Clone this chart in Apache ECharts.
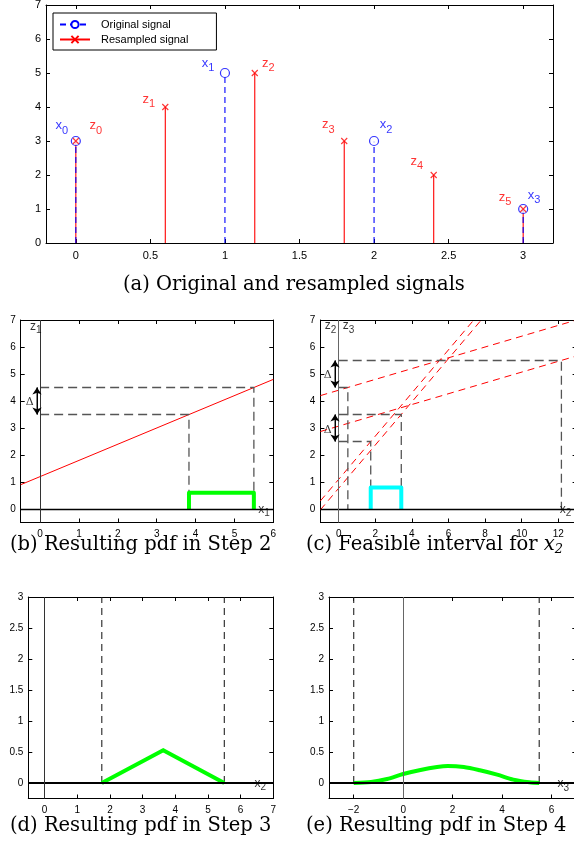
<!DOCTYPE html>
<html>
<head>
<meta charset="utf-8">
<script src="https://cdn.jsdelivr.net/npm/echarts@6/dist/echarts.min.js"></script>
<style>
  html, body { margin: 0; padding: 0; background: #fff; }
  #main { width: 574px; height: 854px; }
</style>
</head>
<body>
<div id="main"></div>
<script>
// (a) original signal x_k and resampled signal z_k
var origT = [0, 1, 2, 3];
var origV = [3, 5, 3, 1];
var resT = [0, 0.6, 1.2, 1.8, 2.4, 3];
var resV = [3, 4, 5, 3, 2, 1];
var aXTicks = [0, 0.5, 1, 1.5, 2, 2.5, 3];
var aYTicks = [0, 1, 2, 3, 4, 5, 6, 7];

// (b) z1 as a function of x1
var bLine = [[-0.5, 0.9], [6, 4.8]];
var bZBand = [3.5, 4.5];
var bXBand = [3.83, 5.5];
var bPdf = 0.6;
var bXTicks = [0, 1, 2, 3, 4, 5, 6];
var bcYTicks = [0, 1, 2, 3, 4, 5, 6, 7];

// (c) z2 / z3 as functions of x2
var cZ2Lines = [[[-1, 2.87], [13, 5.67]], [[-1, 4.2], [13, 7]]];
var cZ3Lines = [[[-1, -0.03], [7.79, 7]], [[-1, 0.3], [7.38, 7]]];
var cZ2Band = [4.5, 5.5];
var cZ2X = [0.5, 12.17];
var cZ3Band = [2.5, 3.5];
var cZ3X = [1.75, 3.42];
var cPdf = 0.8;
var cXTicks = [0, 2, 4, 6, 8, 10, 12];

// (d) pdf of x2
var dSupport = [1.75, 5.5];
var dPdf = [[1.75, 0], [3.63, 0.53], [5.5, 0]];
var dXTicks = [0, 1, 2, 3, 4, 5, 6, 7];
var deYTicks = [0, 0.5, 1, 1.5, 2, 2.5, 3];

// (e) pdf of x3
var eSupport = [-2, 5.5];
var ePdf = [[-2, 0], [-1.3, 0.016], [-0.65, 0.065], [0, 0.145], [0.7, 0.21], [1.37, 0.257],
            [1.8, 0.273], [2.45, 0.257], [3.1, 0.205], [3.8, 0.135], [4.45, 0.055], [5.1, 0.012], [5.5, 0]];
var eXTicks = [-2, 0, 2, 4, 6];

var SANS = 'Liberation Sans';
var SERIF = 'DejaVu Serif';
var BLUE = '#0000ff', RED = '#ff0000', GREEN = '#00ff00', CYAN = '#00ffff', GUIDE = '#555555';

var chart = echarts.init(document.getElementById('main'));

var panels = [
  { grid: {left: 46, top: 5, width: 507, height: 238}, x: [-0.2, 3.2], y: [0, 7], xt: aXTicks, yt: aYTicks, fs: 11 },
  { grid: {left: 20.7, top: 320, width: 252.6, height: 202.5}, x: [-0.5, 6], y: [-0.5, 7], xt: bXTicks, yt: bcYTicks, fs: 10 },
  { grid: {left: 320.4, top: 320, width: 256.2, height: 202.5}, x: [-1, 13], y: [-0.5, 7], xt: cXTicks, yt: bcYTicks, fs: 10 },
  { grid: {left: 28.3, top: 597, width: 245, height: 201.5}, x: [-0.5, 7], y: [-0.25, 3], xt: dXTicks, yt: deYTicks, fs: 10 },
  { grid: {left: 329, top: 597, width: 247.3, height: 201.5}, x: [-3, 7], y: [-0.25, 3], xt: eXTicks, yt: deYTicks, fs: 10 }
];

function fmt(v) { return v < 0 ? '\u2212' + (-v) : String(v); }

var grids = [], xAxes = [], yAxes = [];
panels.forEach(function (p, gi) {
  grids.push(Object.assign({containLabel: false, outerBoundsMode: 'none'}, p.grid));
  ['bottom', 'top'].forEach(function (pos) {
    xAxes.push({
      type: 'value', gridIndex: gi, position: pos, min: p.x[0], max: p.x[1],
      axisLine: {show: true, onZero: false, lineStyle: {color: '#000', width: 1}},
      axisTick: {show: true, inside: true, length: 4, customValues: p.xt, lineStyle: {color: '#000'}},
      axisLabel: {show: pos === 'bottom', customValues: p.xt, formatter: fmt, color: '#000',
                  fontFamily: SANS, fontSize: p.fs, margin: 7},
      splitLine: {show: false}
    });
  });
  ['left', 'right'].forEach(function (pos) {
    yAxes.push({
      type: 'value', gridIndex: gi, position: pos, min: p.y[0], max: p.y[1],
      axisLine: {show: true, onZero: false, lineStyle: {color: '#000', width: 1}},
      axisTick: {show: true, inside: true, length: 4, customValues: p.yt, lineStyle: {color: '#000'}},
      axisLabel: {show: pos === 'left', customValues: p.yt, formatter: fmt, color: '#000',
                  fontFamily: SANS, fontSize: p.fs, margin: 5},
      splitLine: {show: false}
    });
  });
});

function seg(gi, data, color, width, dash, z) {
  return {
    type: 'line', xAxisIndex: 2 * gi, yAxisIndex: 2 * gi, data: data, symbol: 'none', silent: true,
    lineStyle: {color: color, width: width, type: dash || 'solid', join: 'round'},
    emphasis: {disabled: true}, z: z || 2
  };
}

function cross(gi, hWidth, vColor) {
  return {
    type: 'line', xAxisIndex: 2 * gi, yAxisIndex: 2 * gi, data: [[0, 0]], symbol: 'none',
    lineStyle: {width: 0}, silent: true, z: 1,
    markLine: {
      silent: true, symbol: 'none', label: {show: false},
      data: [
        {yAxis: 0, lineStyle: {color: '#000', width: hWidth, type: 'solid'}},
        {xAxis: 0, lineStyle: {color: vColor, width: 1, type: 'solid'}}
      ]
    }
  };
}

function arrow(gi, x, band) {
  var s = seg(gi, [[x, band[0]], [x, band[1]]], '#000', 1);
  s.markLine = {
    silent: true, symbol: ['arrow', 'arrow'], symbolSize: 7, label: {show: false},
    lineStyle: {color: '#000', width: 1, type: 'solid'}, itemStyle: {color: '#000'},
    data: [[{coord: [x, band[0]]}, {coord: [x, band[1]]}]]
  };
  return s;
}

function rich(color, big, small, drop) {
  return {
    m: {fontFamily: SANS, fontSize: big, color: color, verticalAlign: 'top'},
    s: {fontFamily: SANS, fontSize: small, color: color, verticalAlign: 'top', padding: [drop, 0, 0, 0]}
  };
}

function labels(gi, items, big, small, drop) {
  return {
    type: 'scatter', xAxisIndex: 2 * gi, yAxisIndex: 2 * gi, symbolSize: 1, silent: true, z: 6,
    itemStyle: {color: 'rgba(0,0,0,0)'},
    data: items.map(function (it) {
      return {
        value: [it.x, it.y],
        label: {show: true, position: 'inside', offset: it.off || [0, 0],
                formatter: '{m|' + it.m + '}{s|' + it.s + '}', rich: rich(it.c, big, small, drop)}
      };
    })
  };
}

function deltas(gi, pts) {
  return {
    type: 'scatter', xAxisIndex: 2 * gi, yAxisIndex: 2 * gi, symbolSize: 1, silent: true, z: 6,
    itemStyle: {color: 'rgba(0,0,0,0)'},
    data: pts.map(function (p) {
      return {value: p, label: {show: true, position: 'inside', formatter: '\u0394',
              fontFamily: SERIF, fontSize: 11, color: '#000'}};
    })
  };
}

function stems(ts, vs, color, dash, z) {
  return {
    type: 'custom', xAxisIndex: 0, yAxisIndex: 0, silent: true, z: z,
    data: ts.map(function (t, i) { return [t, vs[i]]; }),
    renderItem: function (params, api) {
      var p0 = api.coord([api.value(0), 0]);
      var p1 = api.coord([api.value(0), api.value(1)]);
      return {type: 'line', shape: {x1: p0[0], y1: p0[1], x2: p1[0], y2: p1[1]},
              style: {stroke: color, lineWidth: 1.1, lineDash: dash}};
    }
  };
}

function rect(lo, hi, h) { return [[lo, 0], [lo, h], [hi, h], [hi, 0]]; }
function guide(x0, z, x) { return [[x0, z], [x, z], [x, 0]]; }

var XMARK = 'path://M0,0L10,10M10,0L0,10';
var origOff = [[-14, -13.5], [-17, -8], [12, -14.5], [11, -12]];
var resOff = [[20, -13.5], [-16.5, -6], [13.5, -8], [-16, -14.5], [-17, -12], [-18, -10]];

var series = [
  // (a)
  {type: 'line', name: 'Original signal', xAxisIndex: 0, yAxisIndex: 0, data: [],
   symbol: 'emptyCircle', symbolSize: 8, lineStyle: {color: BLUE, type: [6, 4], width: 1.1},
   itemStyle: {color: BLUE, borderColor: BLUE, borderWidth: 1.2}},
  {type: 'line', name: 'Resampled signal', xAxisIndex: 0, yAxisIndex: 0, data: [],
   symbol: XMARK, symbolSize: 6, lineStyle: {color: RED, width: 1},
   itemStyle: {color: 'rgba(0,0,0,0)', borderColor: RED, borderWidth: 1.1}},
  stems(resT, resV, RED, null, 2),
  stems(origT, origV, BLUE, [6, 4], 3),
  {type: 'scatter', xAxisIndex: 0, yAxisIndex: 0, silent: true, z: 4,
   data: origT.map(function (t, i) { return [t, origV[i]]; }),
   symbol: 'circle', symbolSize: 9, itemStyle: {color: '#fff', borderColor: BLUE, borderWidth: 1.2}},
  {type: 'scatter', xAxisIndex: 0, yAxisIndex: 0, silent: true, z: 5,
   data: resT.map(function (t, i) { return [t, resV[i]]; }),
   symbol: XMARK, symbolSize: 6, itemStyle: {color: 'rgba(0,0,0,0)', borderColor: RED, borderWidth: 1.1}},
  labels(0, origT.map(function (t, i) { return {x: t, y: origV[i], m: 'x', s: String(i), c: BLUE, off: origOff[i]}; }), 13, 11, 6),
  labels(0, resT.map(function (t, i) { return {x: t, y: resV[i], m: 'z', s: String(i), c: RED, off: resOff[i]}; }), 13, 11, 6),

  // (b)
  cross(1, 1.3, '#333'),
  seg(1, bLine, RED, 1),
  seg(1, guide(0, bZBand[0], bXBand[0]), GUIDE, 1.3, [9, 5]),
  seg(1, guide(0, bZBand[1], bXBand[1]), GUIDE, 1.3, [9, 5]),
  seg(1, rect(bXBand[0], bXBand[1], bPdf), GREEN, 4, null, 4),
  arrow(1, -0.08, bZBand),
  deltas(1, [[-0.27, 3.97]]),
  labels(1, [{x: -0.11, y: 6.7, m: 'z', s: '1', c: '#000'}, {x: 5.76, y: -0.07, m: 'x', s: '1', c: '#000'}], 12, 10, 5),

  // (c)
  cross(2, 1.3, '#666'),
  seg(2, cZ2Lines[0], RED, 1, [7, 5]),
  seg(2, cZ2Lines[1], RED, 1, [7, 5]),
  seg(2, cZ3Lines[0], RED, 1, [7, 5]),
  seg(2, cZ3Lines[1], RED, 1, [7, 5]),
  seg(2, guide(0, cZ2Band[0], cZ2X[0]), GUIDE, 1.3, [9, 5]),
  seg(2, guide(0, cZ2Band[1], cZ2X[1]), GUIDE, 1.3, [9, 5]),
  seg(2, guide(0, cZ3Band[0], cZ3X[0]), GUIDE, 1.3, [9, 5]),
  seg(2, guide(0, cZ3Band[1], cZ3X[1]), GUIDE, 1.3, [9, 5]),
  seg(2, rect(cZ3X[0], cZ3X[1], cPdf), CYAN, 4, null, 4),
  arrow(2, -0.2, cZ2Band),
  arrow(2, -0.2, cZ3Band),
  deltas(2, [[-0.6, 4.95], [-0.6, 2.92]]),
  labels(2, [{x: -0.44, y: 6.72, m: 'z', s: '2', c: '#000'}, {x: 0.54, y: 6.72, m: 'z', s: '3', c: '#000'},
             {x: 12.4, y: -0.07, m: 'x', s: '2', c: '#000'}], 12, 10, 5),

  // (d)
  cross(3, 2, '#333'),
  seg(3, [[dSupport[0], 0], [dSupport[0], 3]], '#222', 1.1, [7, 5]),
  seg(3, [[dSupport[1], 0], [dSupport[1], 3]], '#222', 1.1, [7, 5]),
  seg(3, dPdf, GREEN, 4, null, 4),
  labels(3, [{x: 6.6, y: -0.03, m: 'x', s: '2', c: '#000'}], 12, 10, 5),

  // (e)
  cross(4, 2, '#666'),
  seg(4, [[eSupport[0], 0], [eSupport[0], 3]], '#222', 1.1, [7, 5]),
  seg(4, [[eSupport[1], 0], [eSupport[1], 3]], '#222', 1.1, [7, 5]),
  Object.assign(seg(4, ePdf, GREEN, 4, null, 4), {smooth: 0.3}),
  labels(4, [{x: 6.47, y: -0.04, m: 'x', s: '3', c: '#000'}], 12, 10, 5)
];

function caption(x, y, text, align) {
  return {type: 'text', x: x, y: y, silent: true,
          style: {text: text, font: '19.5px "' + SERIF + '"', fill: '#000', align: align, verticalAlign: 'middle',
                  rich: {i: {fontFamily: SERIF, fontStyle: 'italic', fontSize: 19.5},
                         s: {fontFamily: SERIF, fontStyle: 'italic', fontSize: 13, verticalAlign: 'top', padding: [10, 0, 0, 0]}}}};
}

var option = {
  animation: false,
  backgroundColor: '#fff',
  grid: grids,
  xAxis: xAxes,
  yAxis: yAxes,
  legend: {
    data: ['Original signal', 'Resampled signal'],
    left: 53, top: 13, orient: 'vertical', itemWidth: 30, itemHeight: 9, itemGap: 4,
    padding: [6, 28, 5, 6], borderColor: '#000', borderWidth: 1, borderRadius: 0, backgroundColor: '#fff',
    textStyle: {fontFamily: SANS, fontSize: 11, color: '#000', padding: [0, 0, 0, 6]},
    selectedMode: false
  },
  graphic: [
    caption(123, 285, '(a) Original and resampled signals', 'left'),
    caption(10, 545, '(b) Resulting pdf in Step 2', 'left'),
    caption(306, 545, '(c) Feasible interval for {i|x}{s|2}', 'left'),
    caption(10, 826, '(d) Resulting pdf in Step 3', 'left'),
    caption(306, 826, '(e) Resulting pdf in Step 4', 'left')
  ],
  series: series
};

chart.setOption(option);

window.addEventListener('resize', function () {
  chart.resize();
});
</script>
</body>
</html>
